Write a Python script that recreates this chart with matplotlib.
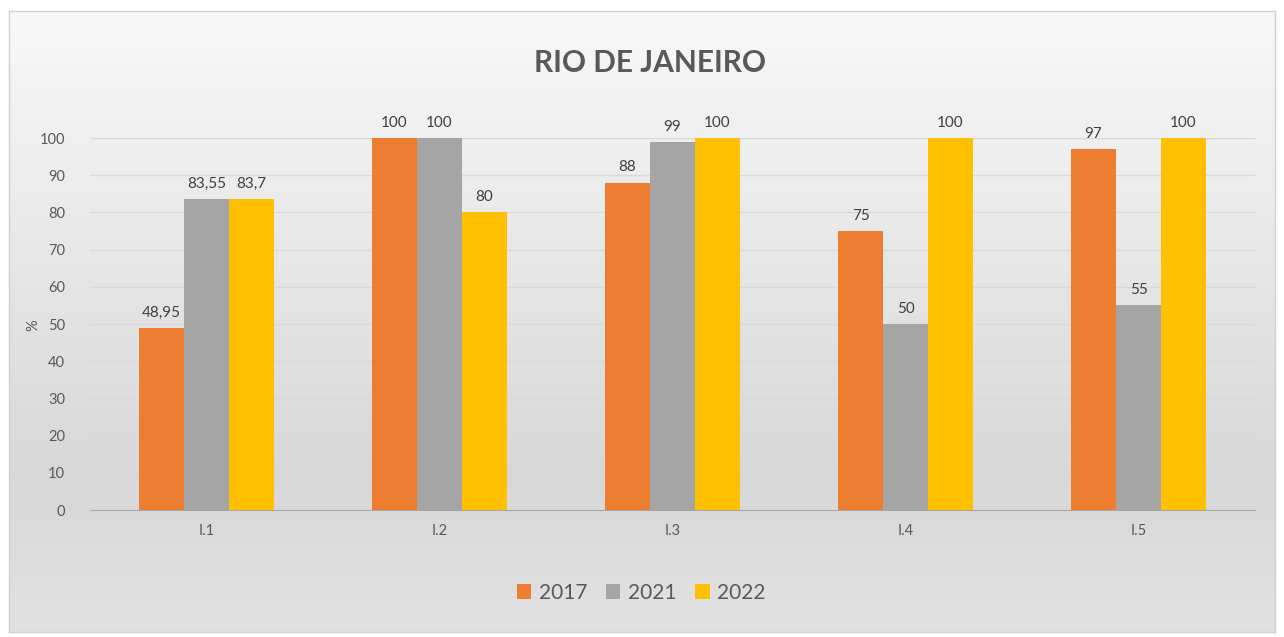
import numpy as np
import matplotlib.pyplot as plt

plt.rcParams['font.family'] = ['Lato', 'DejaVu Sans']

categories = ["I.1", "I.2", "I.3", "I.4", "I.5"]
series_names = ["2017", "2021", "2022"]
v2017 = [48.95, 100, 88, 75, 97]
v2021 = [83.55, 100, 99, 50, 55]
v2022 = [83.7, 80, 100, 100, 100]
colors = ["#ED7D31", "#A5A5A5", "#FFC000"]

W, H = 1284, 637
fig = plt.figure(figsize=(W / 100, H / 100), dpi=100)

# gradient chart area background
bg = fig.add_axes([9 / W, 1 - 632 / H, (1275 - 9) / W, (632 - 11) / H])
t = np.linspace(0, 1, 256)
shade = np.where(t < 0.75, 0.975 - 0.13 * (t / 0.75), 0.845 + 0.04 * ((t - 0.75) / 0.25))
img = np.dstack([shade] * 3).reshape(256, 1, 3)
bg.imshow(img, aspect='auto', extent=[0, 1, 0, 1], origin='upper')
bg.set_xticks([])
bg.set_yticks([])
for s in bg.spines.values():
    s.set_color("#D0D0D0")
    s.set_linewidth(1)

ax = fig.add_axes([90 / W, 1 - 510 / H, (1255 - 90) / W, (510 - 138) / H])
ax.patch.set_alpha(0)

x = np.arange(len(categories))
bw = 0.193
data = [v2017, v2021, v2022]
for i, (name, vals) in enumerate(zip(series_names, data)):
    pos = x + (i - 1) * bw
    ax.bar(pos, vals, width=bw, color=colors[i], label=name, zorder=3)
    for p, v in zip(pos, vals):
        lbl = ("%g" % v).replace(".", ",")
        ax.text(p, v + 2.2, lbl, ha='center', va='bottom', fontsize=11,
                color="#404040", clip_on=False)

ax.set_xlim(-0.5, len(categories) - 0.5)
ax.set_ylim(0, 100)
ax.set_yticks(range(0, 101, 10))
ax.set_xticks(x)
ax.set_xticklabels(categories)
ax.tick_params(axis='both', length=0, labelsize=10.5, labelcolor="#595959")
ax.tick_params(axis='y', pad=18)
ax.tick_params(axis='x', pad=10)
ax.grid(axis='y', color="#D9D9D9", linewidth=1, zorder=0)
for s in ["top", "right", "left"]:
    ax.spines[s].set_visible(False)
ax.spines["bottom"].set_color("#A6A6A6")

fig.text(33 / W, 1 - 325 / H, "%", rotation=90, ha='center', va='center',
         fontsize=10.5, color="#595959")

fig.text(650 / W, 1 - 63 / H, "RIO DE JANEIRO", ha='center', va='center',
         fontsize=21.5, fontweight='bold', color="#595959")

handles, labels = ax.get_legend_handles_labels()
leg = fig.legend(handles, labels, loc='center', bbox_to_anchor=(641 / W, 1 - 593 / H),
                 ncol=3, frameon=False, fontsize=15, handlelength=0.7, handleheight=0.7,
                 handletextpad=0.35, columnspacing=0.9)
for txt in leg.get_texts():
    txt.set_color("#595959")

fig.savefig("out.png", dpi=100)
